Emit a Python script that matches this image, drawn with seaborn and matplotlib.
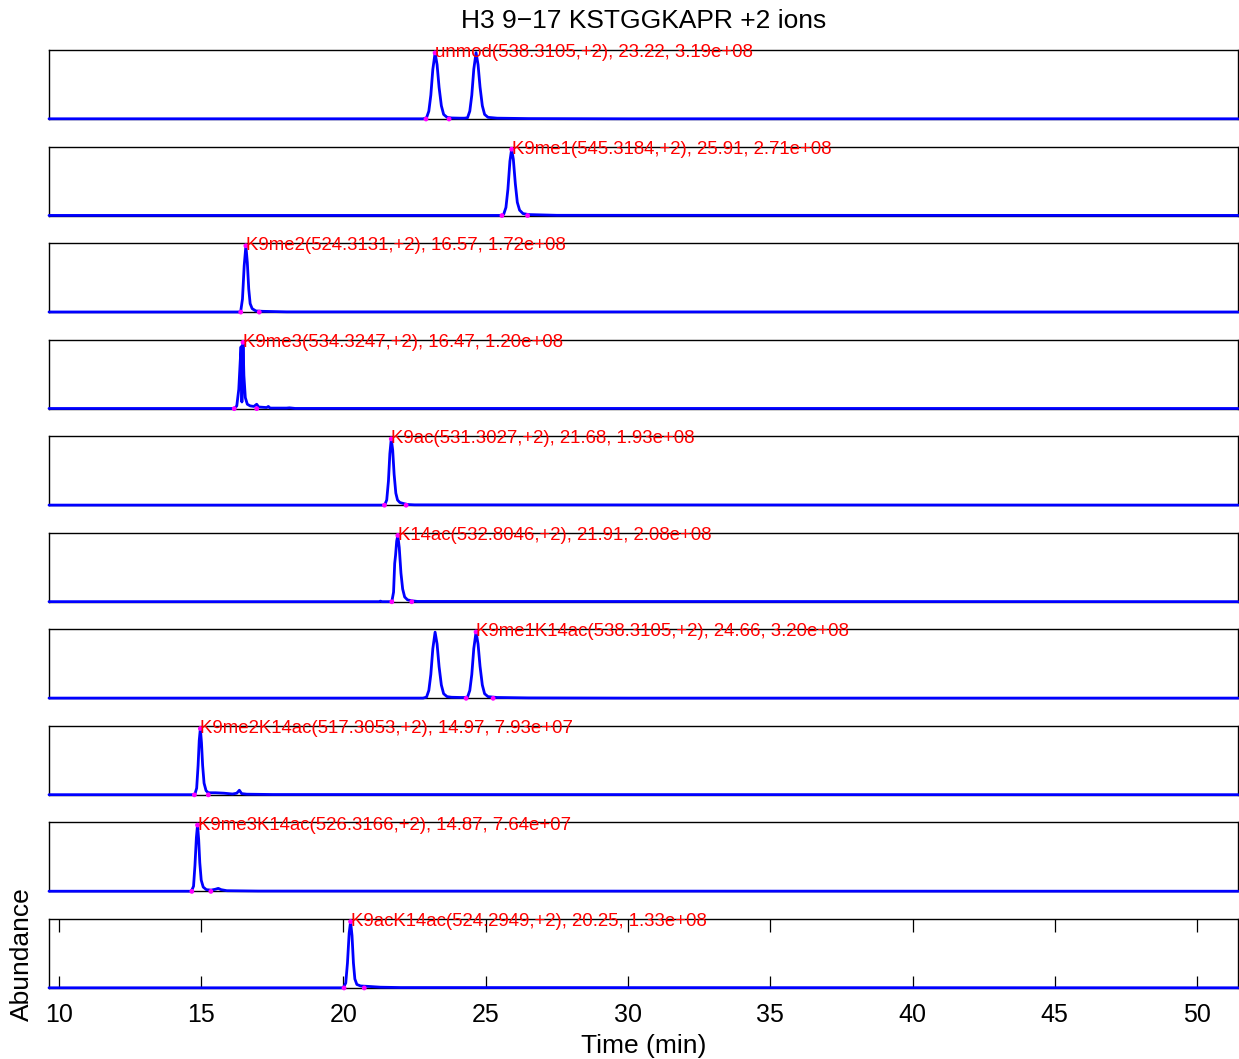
import numpy as np
import pandas as pd
import matplotlib
matplotlib.use("Agg")
import matplotlib.pyplot as plt
import seaborn as sns

# ---- extracted ion chromatograms (time in min, abundance in units of 1e8) ----
rt_538 = [9.65, 22.80, 22.92, 23.00, 23.07, 23.14, 23.22, 23.29, 23.36, 23.44, 23.52, 23.64,
          23.80, 24.10, 24.25, 24.36, 24.44, 24.51, 24.58, 24.66, 24.73, 24.80, 24.88, 24.96,
          25.08, 25.40, 26.50, 30.00, 51.44]
ab_538 = [0.01, 0.01, 0.06, 0.38, 1.15, 2.39, 3.19, 2.62, 1.53, 0.64, 0.22, 0.08,
          0.05, 0.04, 0.04, 0.06, 0.38, 1.15, 2.40, 3.20, 2.62, 1.54, 0.64, 0.22,
          0.08, 0.04, 0.02, 0.01, 0.01]

rt_545 = [9.65, 25.55, 25.63, 25.71, 25.78, 25.85, 25.91, 25.97, 26.04, 26.11, 26.19, 26.31,
          26.51, 27.50, 51.44]
ab_545 = [0.005, 0.005, 0.05, 0.33, 1.08, 2.22, 2.71, 2.30, 1.30, 0.54, 0.22, 0.08,
          0.04, 0.01, 0.005]

rt_524a = [9.65, 16.33, 16.39, 16.45, 16.51, 16.57, 16.62, 16.67, 16.72, 16.79, 16.92, 17.17,
           18.00, 51.44]
ab_524a = [0.003, 0.003, 0.03, 0.34, 1.20, 1.72, 1.29, 0.60, 0.22, 0.09, 0.03, 0.02,
           0.006, 0.003]

rt_534 = [9.65, 16.10, 16.18, 16.25, 16.32, 16.37, 16.40, 16.43, 16.47, 16.50, 16.55, 16.62,
          16.72, 16.85, 16.95, 17.02, 17.30, 17.36, 17.42, 18.00, 18.10, 18.30, 51.44]
ab_534 = [0.003, 0.003, 0.01, 0.05, 0.35, 0.85, 1.12, 0.12, 1.20, 0.60, 0.20, 0.08,
          0.05, 0.04, 0.08, 0.03, 0.02, 0.04, 0.01, 0.01, 0.015, 0.004, 0.003]

rt_531 = [9.65, 21.40, 21.45, 21.52, 21.58, 21.63, 21.68, 21.73, 21.78, 21.84, 21.90, 21.98,
          22.10, 22.25, 22.50, 51.44]
ab_531 = [0.003, 0.003, 0.01, 0.15, 0.70, 1.50, 1.93, 1.60, 0.90, 0.35, 0.15, 0.08,
          0.05, 0.02, 0.01, 0.003]

rt_532 = [9.65, 21.25, 21.30, 21.35, 21.65, 21.70, 21.76, 21.80, 21.83, 21.87, 21.91, 21.96,
          22.02, 22.08, 22.15, 22.25, 22.40, 22.60, 51.44]
ab_532 = [0.003, 0.003, 0.02, 0.003, 0.003, 0.01, 0.30, 1.20, 1.45, 1.90, 2.08, 1.70,
          0.90, 0.40, 0.15, 0.06, 0.03, 0.01, 0.003]

rt_517 = [9.65, 14.74, 14.78, 14.84, 14.89, 14.93, 14.97, 15.01, 15.05, 15.10, 15.17, 15.25,
          15.50, 15.80, 16.10, 16.25, 16.34, 16.42, 16.60, 17.50, 51.44]
ab_517 = [0.002, 0.002, 0.01, 0.08, 0.35, 0.65, 0.793, 0.62, 0.35, 0.14, 0.05, 0.025,
          0.025, 0.02, 0.01, 0.02, 0.055, 0.015, 0.008, 0.004, 0.002]

rt_526 = [9.65, 14.62, 14.66, 14.73, 14.78, 14.83, 14.87, 14.91, 14.95, 15.00, 15.07, 15.18,
          15.35, 15.50, 15.60, 15.70, 15.90, 17.00, 51.44]
ab_526 = [0.002, 0.002, 0.005, 0.06, 0.30, 0.62, 0.764, 0.60, 0.33, 0.13, 0.05, 0.02,
          0.015, 0.025, 0.035, 0.02, 0.008, 0.004, 0.002]

rt_524b = [9.65, 19.95, 20.00, 20.08, 20.14, 20.20, 20.25, 20.30, 20.35, 20.40, 20.47, 20.60,
           20.90, 21.30, 22.00, 51.44]
ab_524b = [0.003, 0.003, 0.01, 0.10, 0.50, 1.10, 1.33, 1.05, 0.50, 0.18, 0.07, 0.04,
           0.03, 0.015, 0.008, 0.003]

# ---- peptide forms, one panel each ----
forms = ["unmod", "K9me1", "K9me2", "K9me3", "K9ac", "K14ac",
         "K9me1K14ac", "K9me2K14ac", "K9me3K14ac", "K9acK14ac"]
mz = [538.3105, 545.3184, 524.3131, 534.3247, 531.3027, 532.8046,
      538.3105, 517.3053, 526.3166, 524.2949]
apex_rt = [23.22, 25.91, 16.57, 16.47, 21.68, 21.91, 24.66, 14.97, 14.87, 20.25]
apex_ab = [3.19, 2.71, 1.72, 1.20, 1.93, 2.08, 3.20, 0.793, 0.764, 1.33]
peak_start = [22.90, 25.57, 16.39, 16.16, 21.44, 21.70, 24.31, 14.76, 14.67, 20.02]
peak_end = [23.71, 26.47, 17.04, 16.95, 22.20, 22.40, 25.26, 15.25, 15.34, 20.73]
traces = [(rt_538, ab_538), (rt_545, ab_545), (rt_524a, ab_524a), (rt_534, ab_534),
          (rt_531, ab_531), (rt_532, ab_532), (rt_538, ab_538), (rt_517, ab_517),
          (rt_526, ab_526), (rt_524b, ab_524b)]
x_ticks = [10, 15, 20, 25, 30, 35, 40, 45, 50]
UNIT = 1e8

sns.set_style("white")
plt.rcParams["font.family"] = ["Liberation Sans", "DejaVu Sans"]
plt.rcParams["text.color"] = "black"

W, H = 1239, 1059
fig = plt.figure(figsize=(W / 100, H / 100), dpi=100)

for i, form in enumerate(forms):
    top = 50 + 96.55 * i
    ax = fig.add_axes([49 / W, 1 - (top + 69) / H, 1189 / W, 69 / H])
    rt, ab = traces[i]
    df = pd.DataFrame({"rt": rt, "ab": np.array(ab) * UNIT})
    sns.lineplot(data=df, x="rt", y="ab", ax=ax, color="#0000ff", lw=2.0,
                 estimator=None, sort=False, zorder=3)
    ax.lines[-1].set_clip_on(False)

    marks = pd.DataFrame({"rt": [peak_start[i], apex_rt[i], peak_end[i]],
                          "ab": [0.0, apex_ab[i] * UNIT, 0.0]})
    sns.scatterplot(data=marks, x="rt", y="ab", ax=ax, color="#ff00ff", s=12,
                    edgecolor="none", zorder=4, clip_on=False)

    ymax = max(ab) * UNIT
    ax.set_xlim(9.65, 51.44)
    ax.set_ylim(0, ymax * 1.04)
    label = f"{form}({mz[i]:.4f},+2), {apex_rt[i]:.2f}, {apex_ab[i] * UNIT:.2e}"
    ax.text(apex_rt[i], apex_ab[i] * UNIT, label, color="#ff0000", fontsize=13.4,
            ha="left", va="center", zorder=5, clip_on=False)

    ax.set_xlabel("")
    ax.set_ylabel("")
    ax.set_yticks([])
    for sp in ax.spines.values():
        sp.set_color("black")
        sp.set_linewidth(1.0)
        sp.set_visible(True)

    if i < len(forms) - 1:
        ax.set_xticks([])
    else:
        ax.set_xticks(x_ticks)
        ax.set_xticklabels([str(t) for t in x_ticks])
        ax.tick_params(axis="x", direction="in", length=9, width=0.9, color="black",
                       labelcolor="black", top=True, bottom=True, labelsize=18, pad=11)

fig.text(643.5 / W, 1 - 21 / H, "H3 9\u221217 KSTGGKAPR +2 ions", ha="center",
         va="center", fontsize=19, color="black")
fig.text(643.5 / W, 1 - 1046 / H, "Time (min)", ha="center", va="center", fontsize=19,
         color="black")
fig.text(22 / W, 1 - 954 / H, "Abundance", ha="center", va="center", fontsize=19,
         rotation=90, color="black")

fig.savefig("out.png", dpi=100, facecolor="white")
